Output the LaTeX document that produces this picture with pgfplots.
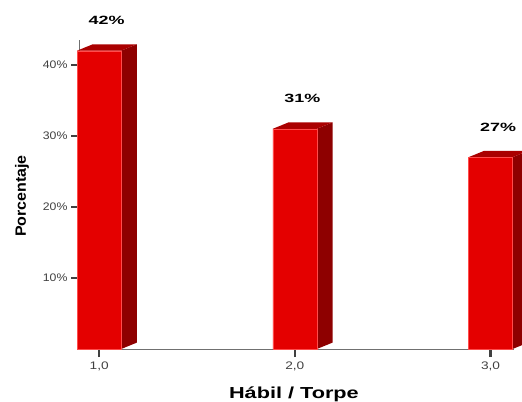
\documentclass[border=0pt]{standalone}
\usepackage{pgfplots}
\pgfplotsset{compat=1.18}
\usepackage{fontspec}
\setmainfont{Liberation Sans}
\definecolor{frontred}{HTML}{E40000}
\definecolor{sidered}{HTML}{8E0000}
\definecolor{topred}{HTML}{AA0000}
\definecolor{tickgray}{HTML}{404040}
\definecolor{axgray}{HTML}{707070}
\begin{document}
\begin{tikzpicture}[x=1bp,y=1bp]
\useasboundingbox (0,0) rectangle (522,401);
\begin{axis}[
  at={(79bp,52bp)}, anchor=south west,
  scale only axis, width=435bp, height=309bp,
  xmin=0.897, xmax=3.12, ymin=0, ymax=43.5,
  clip=false,
  axis x line=bottom, axis y line=left,
  axis line style={-, draw=axgray, line width=0.8bp},
  xtick={1,2,3},
  xticklabels={{\scalebox{1.25}[1]{1,0}},{\scalebox{1.25}[1]{2,0}},{\scalebox{1.25}[1]{3,0}}},
  ytick={10,20,30,40},
  yticklabel={\scalebox{1.12}[1]{\pgfmathprintnumber{\tick}\%}},
  /pgf/number format/assume math mode=true,
  tick align=outside, major tick length=8bp,
  tick style={line width=2.6bp, draw=tickgray},
  ticklabel style={font=\fontsize{11}{13}\selectfont, text=tickgray},
  xticklabel style={yshift=-1bp},
  xlabel={\scalebox{1.36}[1]{\fontsize{16}{18}\selectfont\bfseries Hábil / Torpe}},
  xlabel style={at={(axis description cs:0.494,-0.1586)}, anchor=base},
  ylabel={\scalebox{1.07}[1]{\fontsize{15}{17}\selectfont\bfseries Porcentaje}},
  ylabel style={at={(axis description cs:-0.131,0.495)}, anchor=center},
]
% side faces
\addplot[fill=sidered, draw=none, forget plot] coordinates {(1.1125,0) (1.1925,0.9) (1.1925,42.9) (1.1125,42) (1.1125,0)};
\addplot[fill=sidered, draw=none, forget plot] coordinates {(2.1125,0) (2.1925,0.9) (2.1925,31.9) (2.1125,31) (2.1125,0)};
\addplot[fill=sidered, draw=none, forget plot] coordinates {(3.1125,0) (3.1925,0.9) (3.1925,27.9) (3.1125,27) (3.1125,0)};
% top faces
\addplot[fill=topred, draw=none, forget plot] coordinates {(0.8875,42) (0.9675,42.9) (1.1925,42.9) (1.1125,42) (0.8875,42)};
\addplot[fill=topred, draw=none, forget plot] coordinates {(1.8875,31) (1.9675,31.9) (2.1925,31.9) (2.1125,31) (1.8875,31)};
\addplot[fill=topred, draw=none, forget plot] coordinates {(2.8875,27) (2.9675,27.9) (3.1925,27.9) (3.1125,27) (2.8875,27)};
% front faces
\addplot[ybar, bar width=0.225, fill=frontred, draw=red!70!white, line width=0.3bp,
  nodes near coords={\scalebox{1.5}[1]{\fontsize{12}{14}\selectfont\bfseries\pgfmathprintnumber{\pgfplotspointmeta}\%}},
  every node near coord/.append style={anchor=center, xshift=7.5bp, yshift=30bp, text=black}]
  coordinates {(1,42) (2,31) (3,27)};
\end{axis}
\end{tikzpicture}
\end{document}
